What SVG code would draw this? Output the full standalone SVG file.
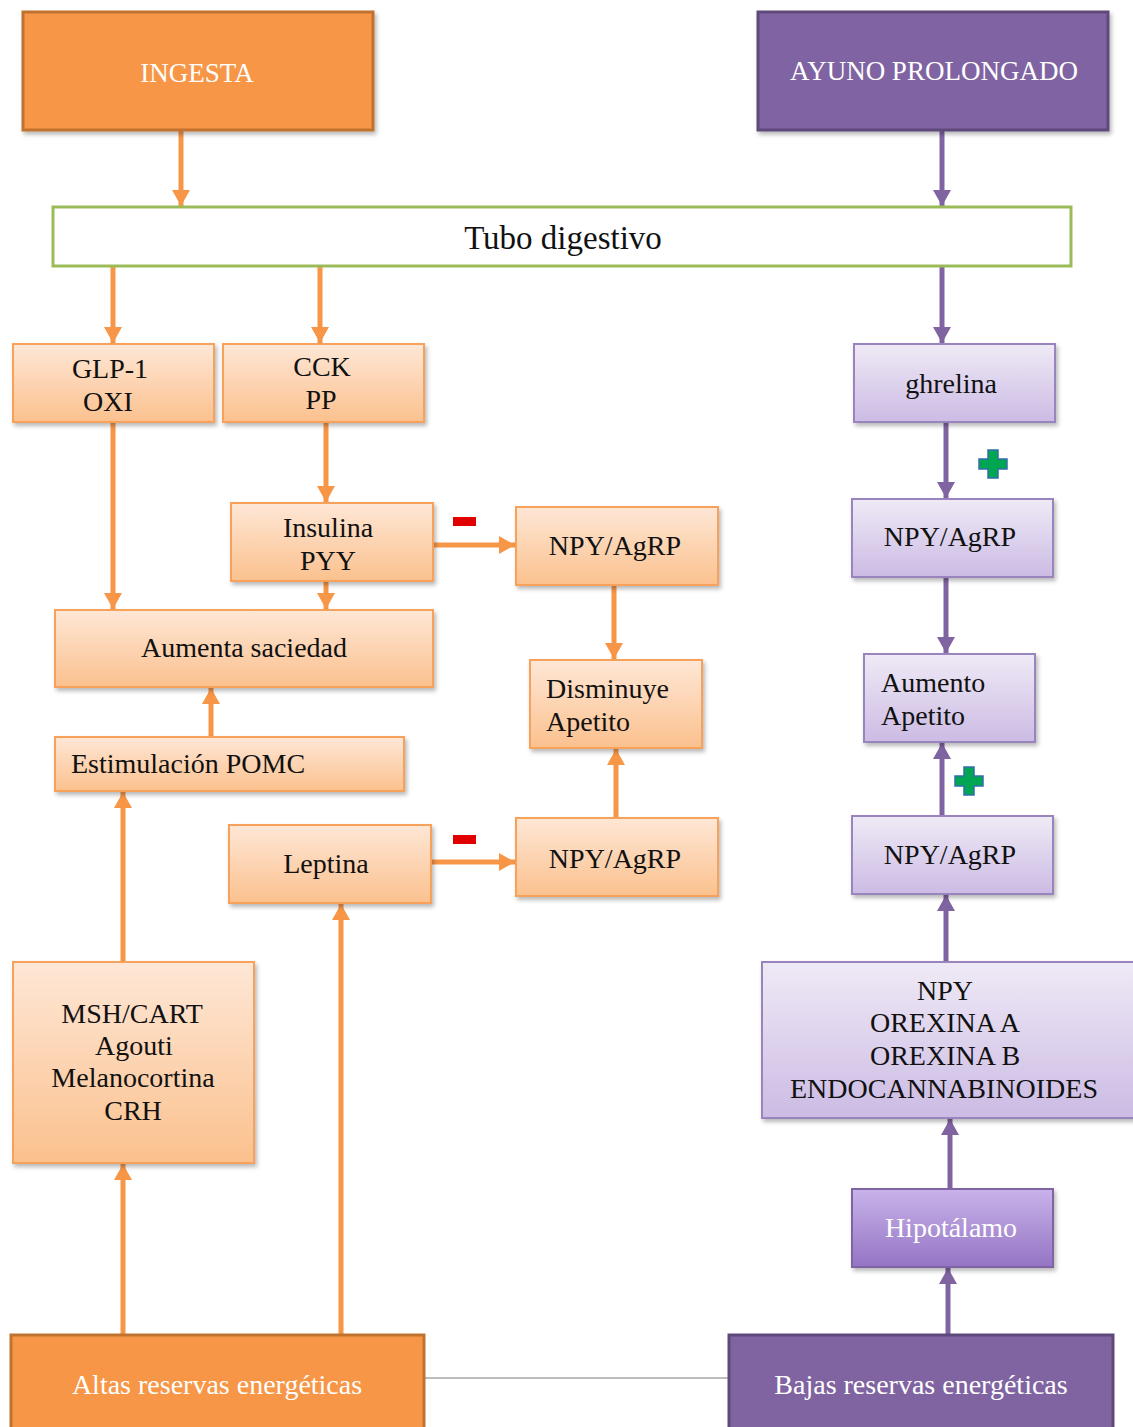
<svg xmlns="http://www.w3.org/2000/svg" width="1133" height="1427" viewBox="0 0 1133 1427">
<defs>
<linearGradient id="gOr" x1="0" y1="0" x2="0" y2="1"><stop offset="0" stop-color="#FEE7D6"/><stop offset="1" stop-color="#FBC18E"/></linearGradient>
<linearGradient id="gPu" x1="0" y1="0" x2="0" y2="1"><stop offset="0" stop-color="#EFEAF6"/><stop offset="1" stop-color="#CCBBE4"/></linearGradient>
<linearGradient id="gHi" x1="0" y1="0" x2="0" y2="1"><stop offset="0" stop-color="#C9B3EA"/><stop offset="1" stop-color="#9474C4"/></linearGradient>
<filter id="sh" x="-10%" y="-10%" width="130%" height="140%"><feDropShadow dx="2" dy="3" stdDeviation="2" flood-color="#000" flood-opacity="0.28"/></filter>
<marker id="aO" markerUnits="userSpaceOnUse" markerWidth="18" markerHeight="18" refX="16" refY="9" orient="auto"><path d="M0,0 L16,9 L0,18 z" fill="#F79646"/></marker>
<marker id="aP" markerUnits="userSpaceOnUse" markerWidth="18" markerHeight="18" refX="16" refY="9" orient="auto"><path d="M0,0 L16,9 L0,18 z" fill="#8064A2"/></marker>
<style>
.t{font-family:'Liberation Serif','DejaVu Serif',serif;font-size:28px;fill:#111;}
.big{font-size:27px;}
.tube{font-size:33px;}
.w{fill:#fff;}
.c{text-anchor:middle;}
.bo{fill:url(#gOr);stroke:#F7A15A;stroke-width:2;filter:url(#sh);}
.bp{fill:url(#gPu);stroke:#9A84BE;stroke-width:2;filter:url(#sh);}
.lo{stroke:#F79646;stroke-width:5;fill:none;marker-end:url(#aO);}
.lp{stroke:#8064A2;stroke-width:5;fill:none;marker-end:url(#aP);}
</style>
</defs>
<rect width="1133" height="1427" fill="#fff"/>
<line x1="424" y1="1378" x2="729" y2="1378" stroke="#BDBDBD" stroke-width="2"/>
<g id="connectors">
<line class="lo" x1="181" y1="131" x2="181" y2="206"/>
<line class="lp" x1="942" y1="131" x2="942" y2="206"/>
<line class="lo" x1="113" y1="267" x2="113" y2="343"/>
<line class="lo" x1="320" y1="267" x2="320" y2="343"/>
<line class="lp" x1="942" y1="267" x2="942" y2="343"/>
<line class="lo" x1="326" y1="423" x2="326" y2="502"/>
<line class="lo" x1="434" y1="545" x2="515" y2="545"/>
<line class="lo" x1="614" y1="586" x2="614" y2="659"/>
<line class="lo" x1="616" y1="817" x2="616" y2="749"/>
<line class="lo" x1="432" y1="862" x2="515" y2="862"/>
<line class="lo" x1="113" y1="423" x2="113" y2="609"/>
<line class="lo" x1="326" y1="582" x2="326" y2="609"/>
<line class="lo" x1="211" y1="736" x2="211" y2="688"/>
<line class="lo" x1="123" y1="961" x2="123" y2="792"/>
<line class="lo" x1="123" y1="1334" x2="123" y2="1164"/>
<line class="lo" x1="341" y1="1334" x2="341" y2="904"/>
<line class="lp" x1="946" y1="423" x2="946" y2="498"/>
<line class="lp" x1="946" y1="578" x2="946" y2="653"/>
<line class="lp" x1="942" y1="815" x2="942" y2="743"/>
<line class="lp" x1="946" y1="961" x2="946" y2="895"/>
<line class="lp" x1="950" y1="1188" x2="950" y2="1119"/>
<line class="lp" x1="948" y1="1334" x2="948" y2="1268"/>
</g>
<g id="signs">
<rect x="453" y="517" width="23" height="9" fill="#E00000"/>
<rect x="453" y="835" width="23" height="9" fill="#E00000"/>
<path d="M988,450 h10 v9 h9 v10 h-9 v9 h-10 v-9 h-9 v-10 h9 z" fill="#00A651" stroke="#2F6FA8" stroke-width="1.5"/>
<path d="M964,767 h10 v9 h9 v10 h-9 v9 h-10 v-9 h-9 v-10 h9 z" fill="#00A651" stroke="#2F6FA8" stroke-width="1.5"/>
</g>
<g font-family="'Liberation Serif','DejaVu Serif',serif">
<g id="ingesta"><rect x="23" y="12" width="350" height="118" fill="#F79646" stroke="#C0722F" stroke-width="3" filter="url(#sh)"/><text class="t big c w" x="197" y="82">INGESTA</text></g>
<g id="ayuno"><rect x="758" y="12" width="350" height="118" fill="#8064A2" stroke="#5E4A7A" stroke-width="3" filter="url(#sh)"/><text class="t big c w" x="934" y="80">AYUNO PROLONGADO</text></g>
<g id="tubo"><rect x="53" y="207" width="1018" height="59" fill="#fff" stroke="#9BBB59" stroke-width="3"/><text class="t tube c" x="563" y="249">Tubo digestivo</text></g>
<g id="glp1"><rect class="bo" x="13" y="344" width="201" height="78"/><text class="t c" x="110" y="378">GLP-1</text><text class="t c" x="108" y="411">OXI</text></g>
<g id="cck"><rect class="bo" x="223" y="344" width="201" height="78"/><text class="t c" x="322" y="376">CCK</text><text class="t c" x="321" y="409">PP</text></g>
<g id="ghrelina"><rect class="bp" x="854" y="344" width="201" height="78"/><text class="t c" x="951" y="393">ghrelina</text></g>
<g id="insulina"><rect class="bo" x="231" y="503" width="202" height="78"/><text class="t c" x="328" y="537">Insulina</text><text class="t c" x="328" y="570">PYY</text></g>
<g id="npy1"><rect class="bo" x="516" y="507" width="202" height="78"/><text class="t c" x="615" y="555">NPY/AgRP</text></g>
<g id="npyp1"><rect class="bp" x="852" y="499" width="201" height="78"/><text class="t c" x="950" y="546">NPY/AgRP</text></g>
<g id="aumenta"><rect class="bo" x="55" y="610" width="378" height="77"/><text class="t c" x="244" y="657">Aumenta saciedad</text></g>
<g id="disminuye"><rect class="bo" x="530" y="660" width="172" height="88"/><text class="t" x="546" y="698">Disminuye</text><text class="t" x="546" y="731">Apetito</text></g>
<g id="aumento"><rect class="bp" x="864" y="654" width="171" height="88"/><text class="t" x="881" y="692">Aumento</text><text class="t" x="881" y="725">Apetito</text></g>
<g id="pomc"><rect class="bo" x="55" y="737" width="349" height="54"/><text class="t" x="71" y="773">Estimulación POMC</text></g>
<g id="leptina"><rect class="bo" x="229" y="825" width="202" height="78"/><text class="t c" x="326" y="873">Leptina</text></g>
<g id="npy2"><rect class="bo" x="516" y="818" width="202" height="78"/><text class="t c" x="615" y="868">NPY/AgRP</text></g>
<g id="npyp2"><rect class="bp" x="852" y="816" width="201" height="78"/><text class="t c" x="950" y="864">NPY/AgRP</text></g>
<g id="msh"><rect class="bo" x="13" y="962" width="241" height="201"/><text class="t c" x="132" y="1023">MSH/CART</text><text class="t c" x="134" y="1055">Agouti</text><text class="t c" x="133" y="1087">Melanocortina</text><text class="t c" x="133" y="1120">CRH</text></g>
<g id="orexina"><rect class="bp" x="762" y="962" width="380" height="156"/><text class="t c" x="945" y="1000">NPY</text><text class="t c" x="945" y="1032">OREXINA A</text><text class="t c" x="945" y="1065">OREXINA B</text><text class="t c" x="944" y="1098">ENDOCANNABINOIDES</text></g>
<g id="hipotalamo"><rect x="852" y="1189" width="201" height="78" fill="url(#gHi)" stroke="#8064A2" stroke-width="2" filter="url(#sh)"/><text class="t c w" x="951" y="1237">Hipotálamo</text></g>
<g id="altas"><rect x="11" y="1335" width="413" height="100" fill="#F79646" stroke="#C0722F" stroke-width="3"/><text class="t c w" x="217" y="1394">Altas reservas energéticas</text></g>
<g id="bajas"><rect x="729" y="1335" width="384" height="100" fill="#8064A2" stroke="#5E4A7A" stroke-width="3"/><text class="t c w" x="921" y="1394">Bajas reservas energéticas</text></g>
</g>
</svg>
